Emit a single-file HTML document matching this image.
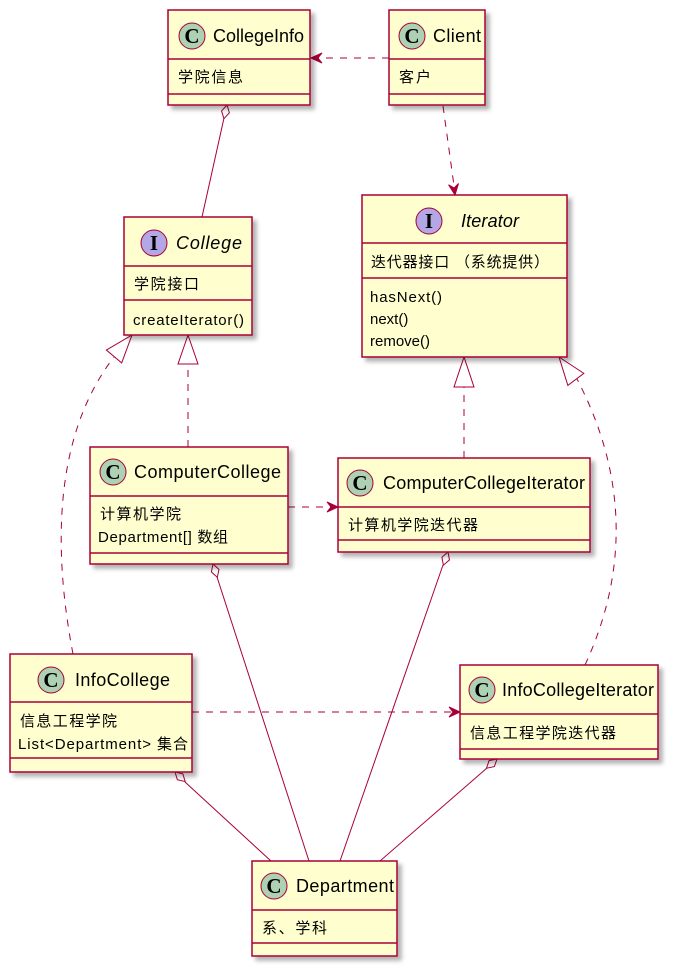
<!DOCTYPE html>
<html><head><meta charset="utf-8"><style>
html,body{margin:0;padding:0;background:#fff}
svg{display:block}
.b{fill:#FEFECE;stroke:#A80036;stroke-width:1.5}
.l{stroke:#A80036;stroke-width:1.5;fill:none}
.d{stroke:#A80036;stroke-width:1;fill:none;stroke-dasharray:7,7}
.s{stroke:#A80036;stroke-width:1;fill:none}
.t{font-family:"Liberation Sans",sans-serif;font-size:18px;fill:#000}
.f{font-family:"Liberation Sans","Noto Sans CJK SC",sans-serif;font-size:15px;fill:#000}
.c{fill:#ADD1B2;stroke:#A80036;stroke-width:1}
.i{fill:#B4A7E5;stroke:#A80036;stroke-width:1}
.g{font-family:"Liberation Serif",serif;font-weight:bold;font-size:21px;fill:#000}
.ah{fill:#A80036;stroke:#A80036;stroke-width:1}
.hw{fill:#fff;stroke:#A80036;stroke-width:1}
</style></head><body>
<svg width="678" height="975" viewBox="0 0 678 975" xmlns="http://www.w3.org/2000/svg">
<defs><filter id="sh" x="-10%" y="-10%" width="130%" height="130%"><feDropShadow dx="4" dy="4" stdDeviation="2" flood-color="#000" flood-opacity="0.3"/></filter></defs>

<!-- connectors -->
<line class="d" x1="389" y1="58" x2="312" y2="58"/>
<path class="ah" transform="translate(311,58) rotate(90)" d="M0,0 L-5,-11 L0,-7 L5,-11 Z"/>
<line class="d" x1="443" y1="106" x2="455" y2="193"/>
<path class="ah" transform="translate(455,195) rotate(-7.6)" d="M0,0 L-5,-11 L0,-7 L5,-11 Z"/>
<line class="s" x1="224" y1="118" x2="202" y2="217"/>
<path class="hw" transform="translate(227,105) rotate(12.7)" d="M0,0 L-4,7 L0,14 L4,7 Z"/>

<path class="d" d="M73,654 C55,560 50,440 114,357"/>
<path class="hw" transform="translate(132,335) rotate(40)" d="M0,0 L-10,28 L10,28 Z"/>
<line class="d" x1="188" y1="447" x2="188" y2="364"/>
<path class="hw" transform="translate(188,335)" d="M0,0 L-10,29 L10,29 Z"/>

<line class="d" x1="464" y1="458" x2="464" y2="387"/>
<path class="hw" transform="translate(464,357)" d="M0,0 L-10,30 L10,30 Z"/>
<path class="d" d="M585,665 C615,600 640,500 577,379"/>
<path class="hw" transform="translate(559,357) rotate(-37)" d="M0,0 L-10,28 L10,28 Z"/>

<line class="d" x1="288" y1="507" x2="336" y2="507"/>
<path class="ah" transform="translate(338,507) rotate(-90)" d="M0,0 L-5,-11 L0,-7 L5,-11 Z"/>
<line class="d" x1="192" y1="712" x2="458" y2="712"/>
<path class="ah" transform="translate(460,712) rotate(-90)" d="M0,0 L-5,-11 L0,-7 L5,-11 Z"/>

<line class="s" x1="217" y1="577" x2="309" y2="861"/>
<path class="hw" transform="translate(213,564) rotate(-18)" d="M0,0 L-4,7 L0,14 L4,7 Z"/>
<line class="s" x1="443" y1="565" x2="340" y2="861"/>
<path class="hw" transform="translate(448,552) rotate(19.3)" d="M0,0 L-4,7 L0,14 L4,7 Z"/>
<line class="s" x1="185" y1="782" x2="271" y2="861"/>
<path class="hw" transform="translate(175,772) rotate(-46.8)" d="M0,0 L-4,7 L0,14 L4,7 Z"/>
<line class="s" x1="487" y1="768" x2="380" y2="861"/>
<path class="hw" transform="translate(497,759) rotate(48.9)" d="M0,0 L-4,7 L0,14 L4,7 Z"/>

<!-- CollegeInfo -->
<g filter="url(#sh)"><rect class="b" x="168" y="10" width="142" height="95"/></g>
<line class="l" x1="168" y1="59" x2="310" y2="59"/><line class="l" x1="168" y1="94" x2="310" y2="94"/>
<circle class="c" cx="192" cy="36" r="13"/><text class="g" x="192" y="43" text-anchor="middle">C</text>
<text class="t" x="213" y="42" textLength="91">CollegeInfo</text>
<text class="f" x="178" y="82" textLength="65">学院信息</text>

<!-- Client -->
<g filter="url(#sh)"><rect class="b" x="389" y="10" width="96" height="95"/></g>
<line class="l" x1="389" y1="59" x2="485" y2="59"/><line class="l" x1="389" y1="94" x2="485" y2="94"/>
<circle class="c" cx="412" cy="36" r="13"/><text class="g" x="412" y="43" text-anchor="middle">C</text>
<text class="t" x="433" y="42" textLength="48">Client</text>
<text class="f" x="399" y="82" textLength="32">客户</text>

<!-- College -->
<g filter="url(#sh)"><rect class="b" x="124" y="217" width="128" height="118"/></g>
<line class="l" x1="124" y1="266" x2="252" y2="266"/><line class="l" x1="124" y1="300" x2="252" y2="300"/>
<circle class="i" cx="154" cy="243" r="13"/><text class="g" x="154" y="250" text-anchor="middle">I</text>
<text class="t" x="176" y="249" font-style="italic" textLength="66">College</text>
<text class="f" x="134" y="289" textLength="65">学院接口</text>
<text class="f" x="133" y="325" textLength="111">createIterator()</text>

<!-- Iterator -->
<g filter="url(#sh)"><rect class="b" x="362" y="195" width="205" height="162"/></g>
<line class="l" x1="362" y1="243" x2="567" y2="243"/><line class="l" x1="362" y1="278" x2="567" y2="278"/>
<circle class="i" cx="429" cy="221" r="13"/><text class="g" x="429" y="228" text-anchor="middle">I</text>
<text class="t" x="461" y="227" font-style="italic" textLength="58">Iterator</text>
<text class="f" x="371" y="267" textLength="178">迭代器接口 （系统提供）</text>
<text class="f" x="370" y="302" textLength="72">hasNext()</text>
<text class="f" x="370" y="324">next()</text>
<text class="f" x="370" y="346">remove()</text>

<!-- ComputerCollege -->
<g filter="url(#sh)"><rect class="b" x="90" y="447" width="198" height="117"/></g>
<line class="l" x1="90" y1="496" x2="288" y2="496"/><line class="l" x1="90" y1="553" x2="288" y2="553"/>
<circle class="c" cx="113" cy="472" r="13"/><text class="g" x="113" y="479" text-anchor="middle">C</text>
<text class="t" x="134" y="478" textLength="147">ComputerCollege</text>
<text class="f" x="100" y="519" textLength="81">计算机学院</text>
<text class="f" x="98" y="542" textLength="130">Department[] 数组</text>

<!-- ComputerCollegeIterator -->
<g filter="url(#sh)"><rect class="b" x="338" y="458" width="252" height="94"/></g>
<line class="l" x1="338" y1="507" x2="590" y2="507"/><line class="l" x1="338" y1="540" x2="590" y2="540"/>
<circle class="c" cx="360" cy="483" r="13"/><text class="g" x="360" y="490" text-anchor="middle">C</text>
<text class="t" x="383" y="489" textLength="202">ComputerCollegeIterator</text>
<text class="f" x="348" y="530" textLength="130">计算机学院迭代器</text>

<!-- InfoCollege -->
<g filter="url(#sh)"><rect class="b" x="10" y="654" width="182" height="118"/></g>
<line class="l" x1="10" y1="702" x2="192" y2="702"/><line class="l" x1="10" y1="758" x2="192" y2="758"/>
<circle class="c" cx="51" cy="680" r="13"/><text class="g" x="51" y="687" text-anchor="middle">C</text>
<text class="t" x="75" y="686" textLength="95">InfoCollege</text>
<text class="f" x="20" y="726" textLength="97">信息工程学院</text>
<text class="f" x="18" y="749" textLength="170">List&lt;Department&gt; 集合</text>

<!-- InfoCollegeIterator -->
<g filter="url(#sh)"><rect class="b" x="460" y="665" width="198" height="94"/></g>
<line class="l" x1="460" y1="714" x2="658" y2="714"/><line class="l" x1="460" y1="749" x2="658" y2="749"/>
<circle class="c" cx="482" cy="690" r="13"/><text class="g" x="482" y="697" text-anchor="middle">C</text>
<text class="t" x="502" y="696" textLength="152">InfoCollegeIterator</text>
<text class="f" x="470" y="738" textLength="146">信息工程学院迭代器</text>

<!-- Department -->
<g filter="url(#sh)"><rect class="b" x="252" y="861" width="145" height="95"/></g>
<line class="l" x1="252" y1="910" x2="397" y2="910"/><line class="l" x1="252" y1="943" x2="397" y2="943"/>
<circle class="c" cx="274" cy="886" r="13"/><text class="g" x="274" y="893" text-anchor="middle">C</text>
<text class="t" x="296" y="892" textLength="98">Department</text>
<text class="f" x="262" y="933" textLength="65">系、学科</text>
</svg>
</body></html>
